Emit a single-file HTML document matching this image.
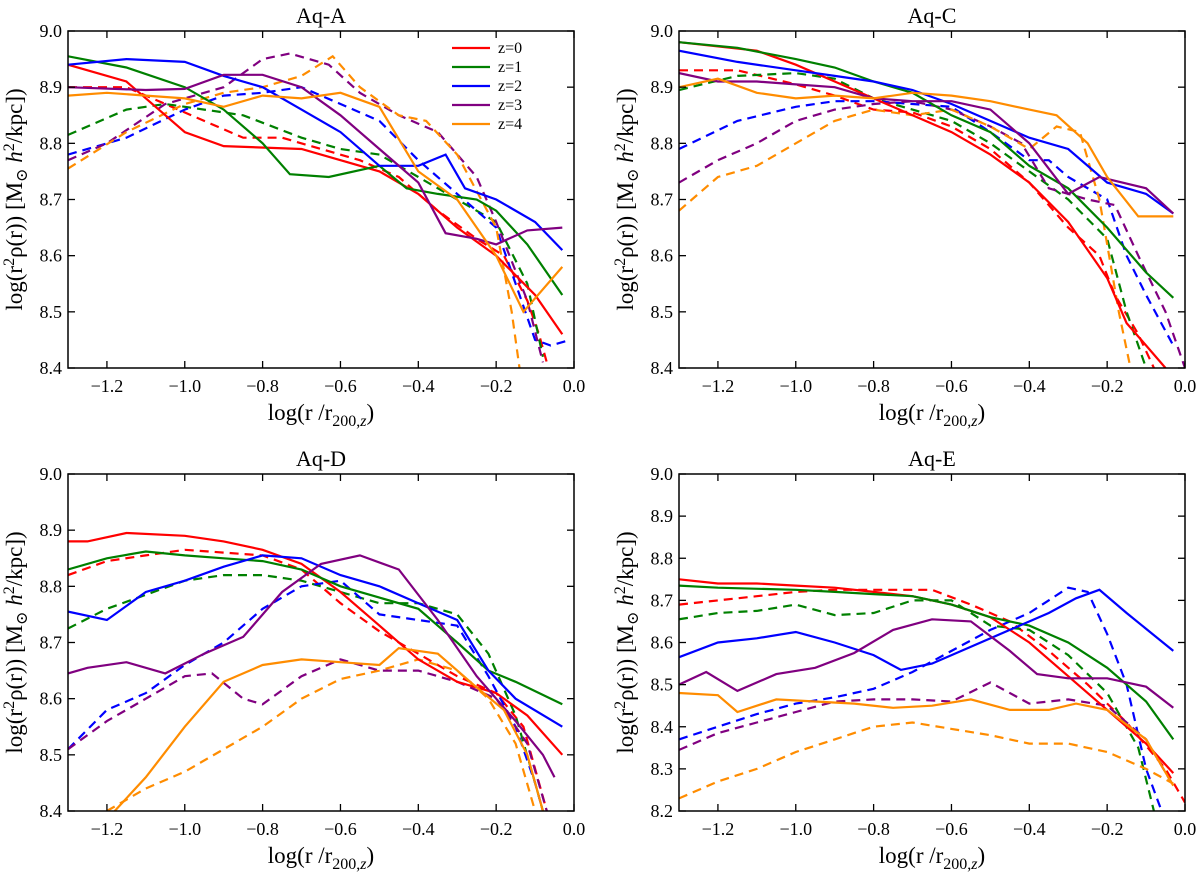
<!DOCTYPE html>
<html><head><meta charset="utf-8"><style>
body{margin:0;background:#fff;}
svg{display:block;font-family:"Liberation Serif","DejaVu Serif",serif;}
</style></head><body>
<svg id="fig" width="1200" height="872" viewBox="0 0 1200 872"></svg>
<script>
const xTicks=[-1.2,-1.0,-0.8,-0.6,-0.4,-0.2,0.0];
const yTicksTop=[8.4,8.5,8.6,8.7,8.8,8.9,9.0];
const yTicksE=[8.2,8.3,8.4,8.5,8.6,8.7,8.8,8.9,9.0];
const panelTitles=["Aq-A","Aq-C","Aq-D","Aq-E"];
const zLabels=["z=0","z=1","z=2","z=3","z=4"];
const colors=["#ff0000","#008000","#0000ff","#800080","#ff8c00"];

// Aq-A solid
const A_s0x=[-1.3,-1.15,-1.0,-0.9,-0.7,-0.6,-0.5,-0.4,-0.3,-0.2,-0.1,-0.03];
const A_s0y=[8.94,8.91,8.82,8.795,8.79,8.77,8.75,8.71,8.65,8.6,8.53,8.46];
const A_s1x=[-1.3,-1.15,-1.0,-0.9,-0.8,-0.73,-0.63,-0.5,-0.43,-0.35,-0.25,-0.2,-0.12,-0.03];
const A_s1y=[8.955,8.935,8.9,8.86,8.8,8.745,8.74,8.76,8.72,8.71,8.7,8.68,8.62,8.53];
const A_s2x=[-1.3,-1.15,-1.0,-0.9,-0.8,-0.7,-0.6,-0.5,-0.4,-0.33,-0.28,-0.2,-0.1,-0.03];
const A_s2y=[8.94,8.95,8.945,8.92,8.9,8.86,8.82,8.76,8.76,8.78,8.72,8.7,8.66,8.61];
const A_s3x=[-1.3,-1.1,-1.0,-0.9,-0.8,-0.7,-0.6,-0.5,-0.4,-0.33,-0.25,-0.2,-0.12,-0.03];
const A_s3y=[8.9,8.895,8.897,8.922,8.922,8.9,8.85,8.79,8.73,8.64,8.63,8.62,8.645,8.65];
const A_s4x=[-1.3,-1.2,-1.1,-1.0,-0.9,-0.8,-0.7,-0.6,-0.5,-0.4,-0.3,-0.2,-0.13,-0.03];
const A_s4y=[8.885,8.89,8.885,8.88,8.865,8.885,8.88,8.89,8.865,8.75,8.7,8.6,8.5,8.58];
// Aq-A dashed
const A_d0x=[-1.3,-1.15,-1.05,-0.95,-0.85,-0.75,-0.65,-0.55,-0.45,-0.35,-0.25,-0.18,-0.12,-0.09,-0.07];
const A_d0y=[8.9,8.9,8.87,8.84,8.81,8.81,8.79,8.77,8.74,8.68,8.63,8.6,8.52,8.46,8.41];
const A_d1x=[-1.3,-1.15,-1.05,-0.95,-0.85,-0.7,-0.6,-0.5,-0.4,-0.3,-0.2,-0.12,-0.08];
const A_d1y=[8.815,8.86,8.87,8.86,8.85,8.81,8.79,8.78,8.74,8.7,8.66,8.55,8.42];
const A_d2x=[-1.3,-1.15,-1.0,-0.9,-0.8,-0.7,-0.6,-0.5,-0.4,-0.3,-0.2,-0.15,-0.1,-0.06,-0.01];
const A_d2y=[8.78,8.81,8.86,8.885,8.89,8.9,8.87,8.84,8.77,8.71,8.65,8.55,8.45,8.44,8.45];
const A_d3x=[-1.3,-1.2,-1.05,-0.9,-0.8,-0.73,-0.63,-0.55,-0.45,-0.35,-0.25,-0.2,-0.12,-0.08];
const A_d3y=[8.77,8.8,8.87,8.9,8.95,8.96,8.94,8.89,8.85,8.82,8.74,8.66,8.52,8.41];
const A_d4x=[-1.3,-1.15,-1.0,-0.9,-0.8,-0.7,-0.62,-0.55,-0.45,-0.38,-0.3,-0.2,-0.16,-0.14];
const A_d4y=[8.755,8.82,8.87,8.89,8.9,8.92,8.955,8.9,8.85,8.84,8.78,8.65,8.5,8.4];

// Aq-C solid
const C_s0x=[-1.3,-1.1,-1.0,-0.9,-0.8,-0.7,-0.6,-0.5,-0.4,-0.3,-0.2,-0.15,-0.1,-0.05];
const C_s0y=[8.98,8.965,8.94,8.91,8.88,8.85,8.82,8.78,8.73,8.66,8.56,8.48,8.44,8.4];
const C_s1x=[-1.3,-1.15,-1.0,-0.9,-0.8,-0.7,-0.6,-0.5,-0.4,-0.3,-0.2,-0.1,-0.03];
const C_s1y=[8.98,8.97,8.95,8.935,8.91,8.89,8.85,8.82,8.76,8.72,8.65,8.57,8.525];
const C_s2x=[-1.3,-1.15,-1.0,-0.9,-0.8,-0.7,-0.6,-0.5,-0.4,-0.3,-0.2,-0.1,-0.03];
const C_s2y=[8.965,8.945,8.93,8.92,8.91,8.895,8.87,8.84,8.81,8.79,8.73,8.71,8.675];
const C_s3x=[-1.3,-1.2,-1.1,-1.0,-0.9,-0.8,-0.7,-0.6,-0.5,-0.4,-0.3,-0.22,-0.1,-0.03];
const C_s3y=[8.925,8.91,8.91,8.905,8.9,8.88,8.875,8.875,8.86,8.8,8.71,8.74,8.72,8.675];
const C_s4x=[-1.3,-1.2,-1.1,-1.0,-0.9,-0.8,-0.7,-0.6,-0.5,-0.4,-0.33,-0.25,-0.2,-0.12,-0.03];
const C_s4y=[8.9,8.915,8.89,8.88,8.885,8.88,8.89,8.885,8.875,8.86,8.85,8.8,8.74,8.67,8.67];
// Aq-C dashed
const C_d0x=[-1.3,-1.15,-1.0,-0.9,-0.8,-0.7,-0.6,-0.5,-0.4,-0.3,-0.22,-0.18,-0.12,-0.08];
const C_d0y=[8.93,8.93,8.905,8.885,8.86,8.855,8.83,8.79,8.73,8.65,8.6,8.53,8.46,8.4];
const C_d1x=[-1.3,-1.15,-1.0,-0.9,-0.8,-0.7,-0.6,-0.5,-0.4,-0.3,-0.2,-0.15,-0.1];
const C_d1y=[8.895,8.92,8.925,8.915,8.88,8.86,8.84,8.8,8.75,8.7,8.63,8.5,8.4];
const C_d2x=[-1.3,-1.15,-1.0,-0.9,-0.8,-0.7,-0.6,-0.5,-0.4,-0.35,-0.3,-0.2,-0.15,-0.1,-0.03];
const C_d2y=[8.79,8.84,8.865,8.875,8.875,8.87,8.865,8.82,8.77,8.77,8.74,8.7,8.6,8.53,8.44];
const C_d3x=[-1.3,-1.2,-1.1,-1.0,-0.9,-0.8,-0.7,-0.6,-0.5,-0.42,-0.35,-0.25,-0.18,-0.12,-0.05,0.0];
const C_d3y=[8.73,8.77,8.8,8.84,8.86,8.87,8.875,8.86,8.83,8.8,8.72,8.7,8.69,8.6,8.5,8.4];
const C_d4x=[-1.3,-1.2,-1.1,-1.0,-0.9,-0.8,-0.7,-0.6,-0.5,-0.4,-0.33,-0.27,-0.22,-0.17,-0.14];
const C_d4y=[8.68,8.74,8.76,8.8,8.84,8.86,8.85,8.86,8.83,8.79,8.83,8.82,8.7,8.5,8.4];

// Aq-D solid
const D_s0x=[-1.3,-1.25,-1.15,-1.0,-0.9,-0.8,-0.7,-0.6,-0.5,-0.4,-0.3,-0.2,-0.12,-0.03];
const D_s0y=[8.88,8.88,8.895,8.89,8.88,8.865,8.84,8.79,8.73,8.67,8.63,8.61,8.57,8.5];
const D_s1x=[-1.3,-1.2,-1.1,-1.0,-0.9,-0.8,-0.7,-0.6,-0.5,-0.4,-0.3,-0.22,-0.15,-0.03];
const D_s1y=[8.83,8.85,8.862,8.855,8.85,8.845,8.83,8.8,8.78,8.76,8.7,8.65,8.63,8.59];
const D_s2x=[-1.3,-1.2,-1.1,-1.0,-0.9,-0.8,-0.7,-0.6,-0.5,-0.4,-0.3,-0.22,-0.15,-0.03];
const D_s2y=[8.755,8.74,8.79,8.81,8.835,8.855,8.85,8.82,8.8,8.77,8.74,8.65,8.6,8.55];
const D_s3x=[-1.3,-1.25,-1.15,-1.05,-0.95,-0.85,-0.75,-0.65,-0.55,-0.45,-0.35,-0.25,-0.15,-0.08,-0.05];
const D_s3y=[8.645,8.655,8.665,8.645,8.68,8.71,8.79,8.84,8.855,8.83,8.74,8.64,8.56,8.5,8.46];
const D_s4x=[-1.18,-1.1,-1.0,-0.9,-0.8,-0.7,-0.6,-0.5,-0.45,-0.35,-0.25,-0.18,-0.12,-0.08];
const D_s4y=[8.4,8.46,8.55,8.63,8.66,8.67,8.665,8.66,8.69,8.68,8.62,8.58,8.5,8.4];
// Aq-D dashed
const D_d0x=[-1.3,-1.2,-1.1,-1.0,-0.9,-0.8,-0.7,-0.6,-0.5,-0.4,-0.3,-0.2,-0.13,-0.07];
const D_d0y=[8.82,8.845,8.855,8.865,8.86,8.855,8.83,8.77,8.72,8.68,8.64,8.61,8.55,8.4];
const D_d1x=[-1.3,-1.2,-1.1,-1.0,-0.9,-0.8,-0.7,-0.6,-0.5,-0.4,-0.3,-0.22,-0.15,-0.1,-0.08];
const D_d1y=[8.725,8.76,8.785,8.81,8.82,8.82,8.81,8.79,8.77,8.77,8.75,8.68,8.57,8.45,8.4];
const D_d2x=[-1.3,-1.2,-1.1,-1.0,-0.9,-0.8,-0.7,-0.6,-0.5,-0.4,-0.3,-0.22,-0.15,-0.1,-0.08];
const D_d2y=[8.51,8.58,8.61,8.66,8.7,8.76,8.8,8.81,8.75,8.74,8.73,8.64,8.55,8.45,8.4];
const D_d3x=[-1.3,-1.2,-1.1,-1.0,-0.93,-0.85,-0.8,-0.7,-0.6,-0.5,-0.4,-0.3,-0.2,-0.12,-0.07];
const D_d3y=[8.51,8.56,8.6,8.64,8.645,8.6,8.59,8.64,8.67,8.65,8.65,8.63,8.6,8.52,8.4];
const D_d4x=[-1.2,-1.1,-1.0,-0.9,-0.8,-0.7,-0.6,-0.5,-0.4,-0.3,-0.22,-0.15,-0.1];
const D_d4y=[8.4,8.44,8.47,8.51,8.55,8.6,8.635,8.65,8.67,8.65,8.6,8.52,8.4];

// Aq-E solid
const E_s0x=[-1.3,-1.2,-1.1,-1.0,-0.9,-0.8,-0.7,-0.6,-0.5,-0.4,-0.3,-0.2,-0.1,-0.03];
const E_s0y=[8.75,8.74,8.74,8.735,8.73,8.72,8.71,8.69,8.66,8.6,8.52,8.44,8.36,8.29];
const E_s1x=[-1.3,-1.2,-1.0,-0.9,-0.8,-0.7,-0.6,-0.5,-0.4,-0.3,-0.2,-0.1,-0.03];
const E_s1y=[8.735,8.73,8.725,8.72,8.715,8.71,8.69,8.66,8.64,8.6,8.54,8.46,8.37];
const E_s2x=[-1.3,-1.2,-1.1,-1.0,-0.9,-0.8,-0.73,-0.65,-0.55,-0.45,-0.35,-0.28,-0.22,-0.15,-0.03];
const E_s2y=[8.565,8.6,8.61,8.625,8.6,8.57,8.535,8.55,8.59,8.63,8.67,8.705,8.725,8.67,8.58];
const E_s3x=[-1.3,-1.23,-1.15,-1.05,-0.95,-0.85,-0.75,-0.65,-0.55,-0.45,-0.38,-0.3,-0.2,-0.1,-0.03];
const E_s3y=[8.5,8.53,8.485,8.525,8.54,8.575,8.63,8.655,8.65,8.58,8.525,8.515,8.515,8.495,8.445];
const E_s4x=[-1.3,-1.2,-1.15,-1.05,-0.95,-0.85,-0.75,-0.65,-0.55,-0.45,-0.35,-0.28,-0.2,-0.1,-0.03];
const E_s4y=[8.48,8.475,8.435,8.465,8.46,8.455,8.445,8.45,8.465,8.44,8.44,8.455,8.44,8.37,8.26];
// Aq-E dashed
const E_d0x=[-1.3,-1.2,-1.1,-1.0,-0.9,-0.8,-0.65,-0.55,-0.45,-0.35,-0.25,-0.15,-0.05,0.0];
const E_d0y=[8.69,8.7,8.71,8.72,8.725,8.725,8.725,8.69,8.65,8.58,8.5,8.41,8.3,8.22];
const E_d1x=[-1.3,-1.2,-1.1,-1.0,-0.9,-0.8,-0.7,-0.6,-0.5,-0.4,-0.3,-0.2,-0.12,-0.08];
const E_d1y=[8.655,8.67,8.675,8.69,8.665,8.67,8.7,8.7,8.64,8.63,8.57,8.48,8.35,8.2];
const E_d2x=[-1.3,-1.2,-1.1,-1.0,-0.9,-0.8,-0.7,-0.6,-0.5,-0.4,-0.3,-0.25,-0.2,-0.15,-0.1,-0.06];
const E_d2y=[8.37,8.4,8.43,8.455,8.47,8.49,8.53,8.58,8.63,8.67,8.73,8.72,8.62,8.5,8.3,8.2];
const E_d3x=[-1.3,-1.2,-1.1,-1.0,-0.9,-0.8,-0.7,-0.6,-0.5,-0.4,-0.3,-0.2,-0.1,-0.03];
const E_d3y=[8.345,8.385,8.41,8.435,8.46,8.465,8.465,8.46,8.505,8.455,8.465,8.45,8.37,8.26];
const E_d4x=[-1.3,-1.2,-1.1,-1.0,-0.9,-0.8,-0.7,-0.6,-0.5,-0.4,-0.3,-0.2,-0.1,-0.03];
const E_d4y=[8.23,8.27,8.3,8.34,8.37,8.4,8.41,8.395,8.38,8.36,8.36,8.34,8.3,8.265];

const NS="http://www.w3.org/2000/svg";
const svg=document.getElementById('fig');
function mk(tag,attrs,parent){const e=document.createElementNS(NS,tag);for(const k in attrs)e.setAttribute(k,attrs[k]);(parent||svg).appendChild(e);return e;}

const panels=[
 {L:68,T:31,ymin:8.4,ymax:9.0,yt:yTicksTop,
  solid:[[A_s0x,A_s0y],[A_s1x,A_s1y],[A_s2x,A_s2y],[A_s3x,A_s3y],[A_s4x,A_s4y]],
  dashed:[[A_d0x,A_d0y],[A_d1x,A_d1y],[A_d2x,A_d2y],[A_d3x,A_d3y],[A_d4x,A_d4y]]},
 {L:679,T:31,ymin:8.4,ymax:9.0,yt:yTicksTop,
  solid:[[C_s0x,C_s0y],[C_s1x,C_s1y],[C_s2x,C_s2y],[C_s3x,C_s3y],[C_s4x,C_s4y]],
  dashed:[[C_d0x,C_d0y],[C_d1x,C_d1y],[C_d2x,C_d2y],[C_d3x,C_d3y],[C_d4x,C_d4y]]},
 {L:68,T:474,ymin:8.4,ymax:9.0,yt:yTicksTop,
  solid:[[D_s0x,D_s0y],[D_s1x,D_s1y],[D_s2x,D_s2y],[D_s3x,D_s3y],[D_s4x,D_s4y]],
  dashed:[[D_d0x,D_d0y],[D_d1x,D_d1y],[D_d2x,D_d2y],[D_d3x,D_d3y],[D_d4x,D_d4y]]},
 {L:679,T:474,ymin:8.2,ymax:9.0,yt:yTicksE,
  solid:[[E_s0x,E_s0y],[E_s1x,E_s1y],[E_s2x,E_s2y],[E_s3x,E_s3y],[E_s4x,E_s4y]],
  dashed:[[E_d0x,E_d0y],[E_d1x,E_d1y],[E_d2x,E_d2y],[E_d3x,E_d3y],[E_d4x,E_d4y]]}
];
const W=506,H=337,XMIN=-1.3,XMAX=0.0;

panels.forEach((p,i)=>{
  const g=mk('g',{});
  
  
  const sx=v=>p.L+(v-XMIN)/(XMAX-XMIN)*W;
  const sy=v=>p.T+(p.ymax-v)/(p.ymax-p.ymin)*H;
  const cid='clip'+i;
  const cp=mk('clipPath',{id:cid},g);mk('rect',{x:p.L,y:p.T,width:W,height:H},cp);
  const lines=mk('g',{'clip-path':'url(#'+cid+')'},g);
  const draw=(set,dash,kind)=>set.forEach((s,k)=>{
    const d=s[0].map((x,j)=>(j?'L':'M')+sx(x).toFixed(1)+','+sy(s[1][j]).toFixed(1)).join('');
    const path=mk('path',{d:d,fill:'none',stroke:colors[k],'stroke-width':2.2,'stroke-dasharray':dash},lines);
    
    
  });
  draw(p.dashed,'9,6','dashed');
  draw(p.solid,'none','solid');
  const frame=mk('rect',{x:p.L,y:p.T,width:W,height:H,fill:'none',stroke:'#000','stroke-width':1.5},g);
  
  
  xTicks.forEach(v=>{
    const x=sx(v);
    mk('line',{x1:x,x2:x,y1:p.T+H,y2:p.T+H-7,stroke:'#000','stroke-width':1.3},g);
    mk('line',{x1:x,x2:x,y1:p.T,y2:p.T+7,stroke:'#000','stroke-width':1.3},g);
    const t=mk('text',{x:x,y:p.T+H+24,'text-anchor':'middle','font-size':18},g);
    t.textContent=(v<0?'\u2212':'')+Math.abs(v).toFixed(1);
    
    
  });
  p.yt.forEach(v=>{
    const y=sy(v);
    mk('line',{x1:p.L,x2:p.L+7,y1:y,y2:y,stroke:'#000','stroke-width':1.3},g);
    mk('line',{x1:p.L+W,x2:p.L+W-7,y1:y,y2:y,stroke:'#000','stroke-width':1.3},g);
    const t=mk('text',{x:p.L-6,y:y+6,'text-anchor':'end','font-size':18},g);
    t.textContent=v.toFixed(1);
    
    
  });
  const tt=mk('text',{x:p.L+W/2,y:p.T-8,'text-anchor':'middle','font-size':22},g);
  tt.textContent=panelTitles[i];
  
  
  const xl=mk('text',{x:p.L+W/2,y:p.T+H+52,'text-anchor':'middle','font-size':23},g);
  xl.innerHTML='log(r /r<tspan dy="6" font-size="16">200,</tspan><tspan font-size="16" font-style="italic">z</tspan><tspan dy="-6">)</tspan>';
  
  
  const yx=p.L-46,yy=p.T+H/2;
  const yl=mk('text',{x:yx,y:yy,'text-anchor':'middle','font-size':23,transform:'rotate(-90 '+yx+' '+yy+')'},g);
  yl.innerHTML='log(r<tspan dy="-8" font-size="16">2</tspan><tspan dy="8">\u03C1(r)) [M</tspan><tspan dy="5" font-size="16">\u2299</tspan><tspan dy="-5"> </tspan><tspan font-style="italic">h</tspan><tspan dy="-8" font-size="16">2</tspan><tspan dy="8">/kpc])</tspan>';
  
  
  if(i===0){
    const lg=mk('g',{},g);
    
    
    zLabels.forEach((z,k)=>{
      const y=48+k*19;
      const ln=mk('line',{x1:452,x2:490,y1:y,y2:y,stroke:colors[k],'stroke-width':2.2},lg);
      
      
      const t=mk('text',{x:498,y:y+5,'font-size':16},lg);
      t.textContent=z;
      
      
    });
  }
});
</script>
</body></html>
